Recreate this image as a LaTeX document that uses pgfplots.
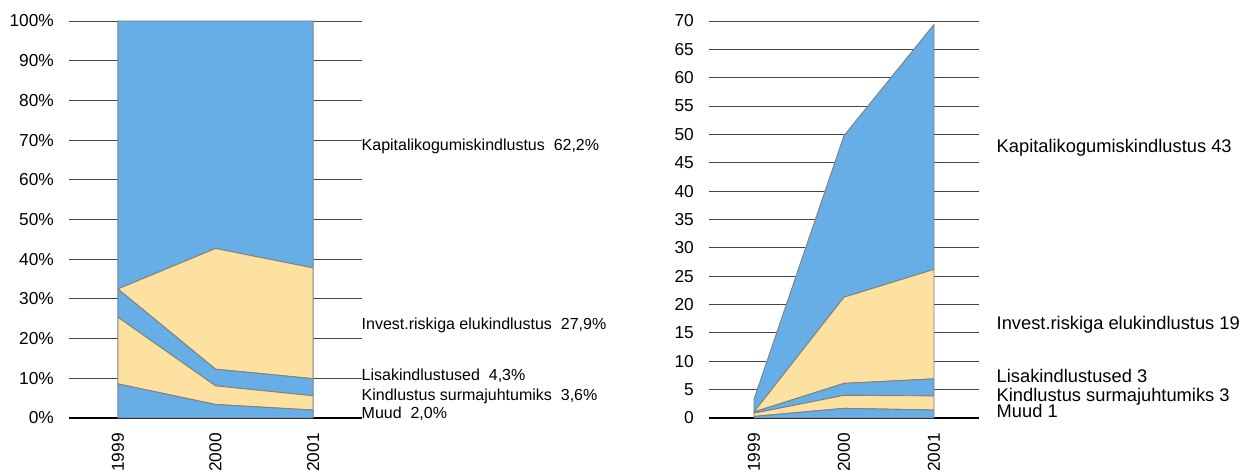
\documentclass[border=0pt]{standalone}
\usepackage{pgfplots}
\pgfplotsset{compat=1.18}
\usepackage{fontspec}
\setmainfont{Liberation Sans}
\definecolor{areablue}{RGB}{102,174,229}
\definecolor{areayellow}{RGB}{253,225,160}
\definecolor{edgegray}{RGB}{128,128,128}
\definecolor{gridgray}{RGB}{70,70,70}
\pgfplotsset{mychart/.style={
  scale only axis, xmin=-0.5, xmax=2.5, ymin=0,
  xtick={0,1,2}, xticklabels={1999,2000,2001},
  axis line style={draw=none}, major tick length=0pt,
  ymajorgrids, grid style={gridgray, line width=0.9pt},
  stack plots=y, clip=false,
  ticklabel style={font=\fontsize{17.3}{20}\selectfont},
  /pgf/number format/assume math mode=true,
  xticklabel style={rotate=90, anchor=east, inner sep=0pt},
  xticklabel shift=15pt,
  yticklabel style={anchor=east, inner sep=0pt},
  yticklabel shift=15pt,
  every axis plot/.append style={draw=edgegray, line width=0.9pt, line join=round},
}}
\begin{document}
\begin{tikzpicture}
% ---------- left: percentages ----------
\begin{axis}[mychart, at={(69pt,55pt)}, anchor=south west,
  width=293pt, height=397pt, ymax=100,
  ytick={0,10,...,100}, yticklabel={\pgfmathprintnumber{\tick}\%}]
\addplot[fill=areablue] coordinates {(0,8.6) (1,3.4) (2,2.0)} \closedcycle;
\addplot[fill=areayellow] coordinates {(0,16.8) (1,4.7) (2,3.6)} \closedcycle;
\addplot[fill=areablue] coordinates {(0,7.1) (1,4.2) (2,4.3)} \closedcycle;
\addplot[fill=areayellow] coordinates {(0,0) (1,30.4) (2,27.9)} \closedcycle;
\addplot[fill=areablue] coordinates {(0,67.5) (1,57.3) (2,62.2)} \closedcycle;
\draw[black, line width=1.3pt] (axis cs:-0.5,0) -- (axis cs:2.5,0);
\end{axis}
% ---------- right: absolute values ----------
\begin{axis}[mychart, at={(709pt,55pt)}, anchor=south west,
  width=270pt, height=397pt, ymax=70,
  ytick={0,5,...,70}]
\addplot[fill=areablue] coordinates {(0,0.28) (1,1.7) (2,1.4)} \closedcycle;
\addplot[fill=areayellow] coordinates {(0,0.56) (1,2.3) (2,2.5)} \closedcycle;
\addplot[fill=areablue] coordinates {(0,0.23) (1,2.1) (2,3.0)} \closedcycle;
\addplot[fill=areayellow] coordinates {(0,0) (1,15.2) (2,19.3)} \closedcycle;
\addplot[fill=areablue] coordinates {(0,2.23) (1,28.5) (2,43.2)} \closedcycle;
\draw[black, line width=1.3pt] (axis cs:-0.5,0) -- (axis cs:2.5,0);
\end{axis}
% ---------- series labels ----------
\begin{scope}[every node/.style={anchor=base west, inner sep=0pt, font=\fontsize{16}{18}\selectfont}]
\node at (361.5pt,322pt) {Kapitalikogumiskindlustus~~62,2\%};
\node at (361.5pt,143pt) {Invest.riskiga elukindlustus~~27,9\%};
\node at (361.5pt,92pt) {Lisakindlustused~~4,3\%};
\node at (361.5pt,72pt) {Kindlustus surmajuhtumiks~~3,6\%};
\node at (361.5pt,54.3pt) {Muud~~2,0\%};
\end{scope}
\begin{scope}[every node/.style={anchor=base west, inner sep=0pt, font=\fontsize{18.3}{21}\selectfont}]
\node at (996.5pt,320.3pt) {Kapitalikogumiskindlustus 43};
\node at (996.5pt,143.7pt) {Invest.riskiga elukindlustus 19};
\node at (996.5pt,90.7pt) {Lisakindlustused 3};
\node at (996.5pt,71.3pt) {Kindlustus surmajuhtumiks 3};
\node at (996.5pt,55.7pt) {Muud 1};
\end{scope}
\pgfresetboundingbox
\useasboundingbox (0pt,0pt) rectangle (1245pt,473pt);
\end{tikzpicture}
\end{document}
